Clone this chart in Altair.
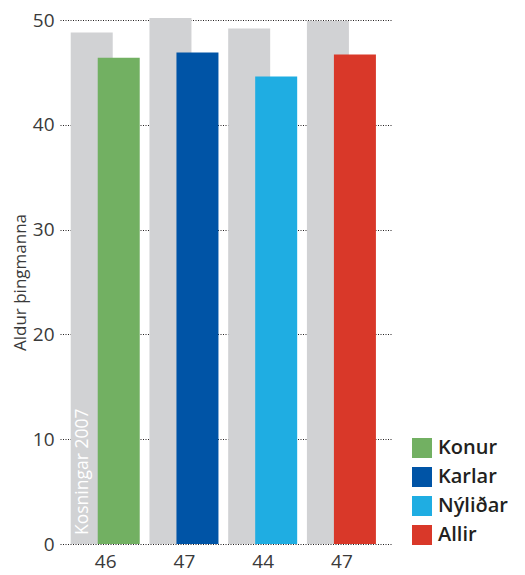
import altair as alt
import pandas as pd

groups = ["Konur", "Karlar", "Nýliðar", "Allir"]
tick_labels = ["46", "47", "44", "47"]
values_2007 = [48.8, 50.2, 49.2, 49.9]
values_now = [46.4, 46.9, 44.6, 46.7]
colors = ["#72b062", "#0054a6", "#1fade2", "#d93829"]
grey = "#d1d2d4"
note_text = "Kosningar 2007"
y_title = "Aldur þingmanna"
FONT = "Open Sans"

df = pd.DataFrame({
    "idx": list(range(len(groups))),
    "group": groups,
    "label": tick_labels,
    "v2007": values_2007,
    "v": values_now,
})
note_df = pd.DataFrame({"idx": [0], "y": [0], "text": [note_text]})

label_expr = "[" + ",".join(f"'{t}'" for t in tick_labels) + "][datum.value]"

x_scale = alt.Scale(domain=[-0.511, 3.579], nice=False, zero=False)
y_scale = alt.Scale(domain=[0, 50], nice=False)

x_axis = alt.Axis(values=[0, 1, 2, 3], labelExpr=label_expr, title=None, grid=False,
                  ticks=False, domain=False, labelPadding=8, labelFontSize=19,
                  labelColor="#3a3a3a", labelFont=FONT)
y_axis = alt.Axis(values=[0, 10, 20, 30, 40, 50], grid=True, gridColor="#231f20",
                  gridDash=[1, 1.5], gridWidth=1, ticks=False, domain=False,
                  labelPadding=6, labelFontSize=19, labelColor="#3a3a3a", labelFont=FONT,
                  titleFont=FONT, titleFontSize=17, titleFontWeight="normal",
                  titleColor="#3a3a3a", titlePadding=3)

base = alt.Chart(df)

grey_bars = base.mark_bar(size=42, xOffset=-13.5, color=grey).encode(
    x=alt.X("idx:Q", scale=x_scale, axis=x_axis),
    y=alt.Y("v2007:Q", scale=y_scale, axis=y_axis, title=y_title),
)

color_bars = base.mark_bar(size=42, xOffset=13.5).encode(
    x=alt.X("idx:Q", scale=x_scale, axis=x_axis),
    y=alt.Y("v:Q", scale=y_scale, axis=y_axis, title=y_title),
    color=alt.Color("group:N", scale=alt.Scale(domain=groups, range=colors),
                    legend=alt.Legend(title=None, orient="none", legendX=352, legendY=418,
                                      symbolType="square", symbolSize=400,
                                      symbolStrokeWidth=0, labelFontSize=20,
                                      labelFont=FONT, labelColor="#231f20",
                                      labelFontWeight=600, rowPadding=9,
                                      labelOffset=6, padding=0)),
)

note = alt.Chart(note_df).mark_text(angle=270, align="left", baseline="middle", dx=9,
                                    xOffset=-22, fontSize=17.5, color="white",
                                    font=FONT).encode(
    x=alt.X("idx:Q", scale=x_scale, axis=x_axis),
    y=alt.Y("y:Q", scale=y_scale, axis=y_axis, title=y_title),
    text="text:N",
)

chart = (
    alt.layer(grey_bars, color_bars, note)
    .properties(
        width=332, height=524,
        padding={"left": 3, "top": 3, "right": 0, "bottom": 4},
    )
    .configure(background="white")
    .configure_view(strokeWidth=0, strokeOpacity=0, fill="white")
    .configure_axisX(grid=False, domain=False, ticks=False)
)

chart.save("out.html", embed_options={"renderer": "svg", "actions": False})
